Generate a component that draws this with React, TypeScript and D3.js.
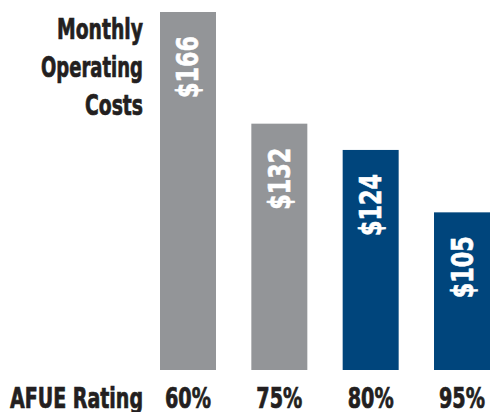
import React from "react";
import * as d3 from "d3";

const categories = ["60%", "75%", "80%", "95%"];
const costs = [166, 132, 124, 105];
const highlighted = [false, false, true, true];
const titleLines = ["Monthly", "Operating", "Costs"];
const axisTitle = "AFUE Rating";

const W = 490;
const H = 412;
const FONT = "'Liberation Sans Narrow', 'DejaVu Sans Condensed', 'Liberation Sans', sans-serif";
const GRAY = "#939598";
const BLUE = "#00457c";
const INK = "#231f20";

export default function App() {
  const x = d3
    .scaleBand<string>()
    .domain(categories)
    .range([160, 490])
    .paddingInner(0.387)
    .paddingOuter(0);
  const y = d3.scaleLinear().domain([57, 166]).range([370, 12]);
  const bw = x.bandwidth();
  const cap = 21;

  return (
    <svg
      width={W}
      height={H}
      style={{ position: "absolute", left: 0, top: 0, background: "#fff" }}
      fontFamily={FONT}
      fontWeight="bold"
    >
      {titleLines.map((t, i) => (
        <text
          key={t}
          x={143}
          y={39 + i * 38}
          textAnchor="end"
          fontSize={28}
          fill={INK}
          stroke={INK}
          strokeWidth={0.7}
          textLength={[86, 102, 58][i]}
          lengthAdjust="spacingAndGlyphs"
        >
          {t}
        </text>
      ))}
      {categories.map((c, i) => {
        const x0 = x(c)!;
        const top = y(costs[i]);
        const cx = x0 + bw / 2;
        return (
          <g key={c}>
            <rect x={x0} y={top} width={bw} height={y(57) - top} fill={highlighted[i] ? BLUE : GRAY} />
            <text
              transform={`translate(${cx + cap / 2},${top + 24}) rotate(-90)`}
              textAnchor="end"
              fontSize={30}
              fill="#fff"
              stroke="#fff"
              strokeWidth={0.6}
              textLength={62}
              lengthAdjust="spacingAndGlyphs"
            >
              {`$${costs[i]}`}
            </text>
            <text
              x={cx}
              y={408}
              textAnchor="middle"
              fontSize={28}
              fill={INK}
              stroke={INK}
              strokeWidth={0.7}
              textLength={46}
              lengthAdjust="spacingAndGlyphs"
            >
              {c}
            </text>
          </g>
        );
      })}
      <text
        x={143}
        y={408}
        textAnchor="end"
        fontSize={28}
        fill={INK}
        stroke={INK}
        strokeWidth={0.7}
        textLength={133}
        lengthAdjust="spacingAndGlyphs"
      >
        {axisTitle}
      </text>
    </svg>
  );
}
